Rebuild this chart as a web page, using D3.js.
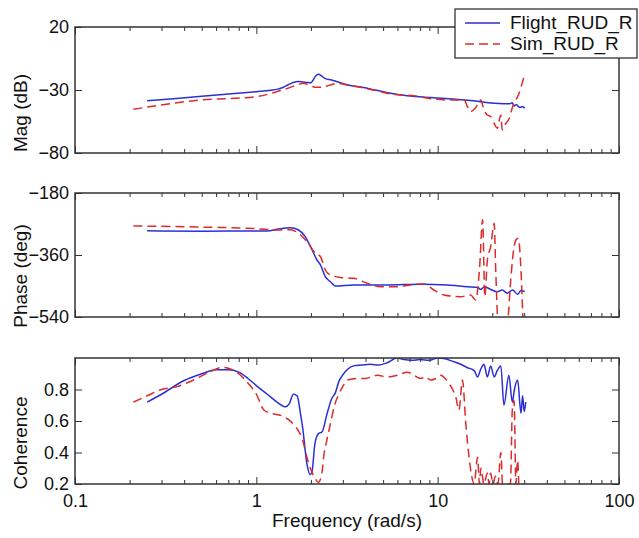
<!DOCTYPE html>
<html>
<head>
<meta charset="utf-8">
<script src="https://cdn.jsdelivr.net/npm/d3@7"></script>
<style>
  body { margin: 0; background: #fff; }
  svg { font-family: "Liberation Sans", Arial, Helvetica, sans-serif; }
</style>
</head>
<body>
<svg></svg>
<script>
const width = 639, height = 538;

// series names
const seriesNames = ['Flight_RUD_R', 'Sim_RUD_R'];

// magnitude (dB)
const magFlightFreq = [0.25, 0.35, 0.5, 0.7, 1.0, 1.2, 1.3, 1.4, 1.5, 1.6, 1.7, 1.8, 1.9, 2.0, 2.07, 2.12, 2.2, 2.3, 2.4, 2.6, 2.8, 3.2, 3.9, 4.5, 5.3, 6.8, 9.1, 11, 14, 17.3, 20.5, 23, 24.8, 25.8, 26.4, 27.2, 28, 28.7, 29.4, 30.2];
const magFlight = [-38.5, -37, -35, -33.2, -31.3, -30.2, -29.5, -28, -25.8, -24, -23.3, -23.6, -24, -24.3, -21.5, -19, -17.5, -19, -21, -22, -23.5, -26, -28, -30, -32.1, -34.5, -36, -36.8, -38, -39.3, -40.6, -41, -41, -40.2, -42.7, -41.5, -43.5, -43.7, -43, -44.5];
const magSimFreq = [0.21, 0.49, 1.0, 1.3, 1.54, 1.68, 1.82, 1.99, 2.16, 2.26, 2.56, 2.79, 3.17, 3.75, 4.44, 5.5, 7.4, 9.1, 12.3, 14, 14.6, 15.2, 16.2, 17.3, 18, 18.8, 19.6, 20.5, 21.3, 22.3, 22.7, 23.8, 24.8, 25.9, 27, 28.1, 29.4, 30];
const magSim = [-45.3, -38, -35.3, -31.3, -27.9, -26, -24.7, -26.8, -27.9, -27.9, -26, -24.7, -26, -27.9, -30, -33.2, -34.6, -36.9, -38, -38, -43.3, -47.2, -44, -38, -45.9, -49.8, -51, -56.4, -60.4, -49.8, -61.7, -56.4, -52.6, -43.3, -38, -32.6, -23.4, -18.9];

// phase (deg)
const phaseFlightFreq = [0.25, 0.5, 1.0, 1.15, 1.3, 1.54, 1.71, 1.86, 2.03, 2.16, 2.26, 2.4, 2.56, 2.73, 3.45, 5.27, 8.05, 11.3, 14.6, 16.6, 17.3, 18.1, 19.6, 21.3, 22.7, 24.2, 25.9, 27.6, 28.8, 30.2];
const phaseFlight = [-289.5, -291, -290, -290, -285.5, -280.7, -287.4, -306.7, -345.5, -374.5, -389, -423, -437.5, -450, -447, -447, -445, -447, -452, -454, -460, -452, -460, -466.5, -461.6, -471, -461.6, -474, -463, -466];
const phaseSimFreq = [0.21, 0.5, 1.0, 1.3, 1.54, 1.71, 1.9, 2.12, 2.26, 2.4, 2.56, 2.91, 3.45, 4.09, 4.84, 5.98, 7.09, 8.4, 9.53, 10.8, 13.4, 15.2, 16.2, 17.0, 17.7, 18.2, 18.8, 19.6, 20.5, 20.9, 21.8, 22.7, 23.8, 25.3, 25.9, 27.0, 27.8, 28.8, 29.4, 29.8];
const phaseSim = [-275.8, -279, -283.6, -287.4, -287, -297, -321, -355, -365, -403.6, -418, -425, -427.8, -442, -452, -452, -447, -444, -461.6, -476, -481, -476, -490.7, -403, -258, -481, -374.5, -336, -268, -403.6, -600, -560, -600, -432, -370, -316.5, -311.6, -403, -520, -600];

// coherence
const cohFlightFreq = [0.25, 0.3, 0.4, 0.5, 0.6, 0.7, 0.8, 0.9, 1.0, 1.15, 1.3, 1.45, 1.52, 1.6, 1.68, 1.75, 1.8, 1.9, 1.98, 2.03, 2.1, 2.2, 2.3, 2.46, 2.6, 2.73, 2.85, 3.03, 3.2, 3.44, 3.8, 4.26, 4.7, 5.27, 5.98, 6.5, 7.2, 8, 9, 10, 11, 12, 13.4, 14.5, 15.9, 16.6, 17.3, 18, 18.8, 19.6, 20.5, 21.3, 22.3, 23.2, 24.7, 25.8, 26.5, 27.6, 28.8, 29.4, 30.0, 30.6];
const cohFlight = [0.72, 0.77, 0.857, 0.9, 0.925, 0.925, 0.91, 0.87, 0.825, 0.77, 0.72, 0.69, 0.71, 0.77, 0.76, 0.65, 0.56, 0.33, 0.26, 0.28, 0.45, 0.52, 0.53, 0.65, 0.74, 0.78, 0.85, 0.9, 0.93, 0.95, 0.955, 0.96, 0.955, 0.97, 1.0, 0.99, 0.985, 0.99, 0.985, 1.0, 0.995, 0.98, 0.96, 0.94, 0.92, 0.88, 0.93, 0.96, 0.88, 0.95, 0.88, 0.92, 0.95, 0.70, 0.89, 0.72, 0.8, 0.86, 0.65, 0.76, 0.66, 0.72];
const cohSimFreq = [0.21, 0.25, 0.3, 0.37, 0.45, 0.55, 0.65, 0.72, 0.8, 0.9, 1.0, 1.1, 1.2, 1.4, 1.5, 1.6, 1.7, 1.8, 1.9, 2.0, 2.1, 2.2, 2.3, 2.35, 2.45, 2.56, 2.7, 2.85, 3.0, 3.17, 3.6, 4.0, 4.64, 5.3, 5.98, 6.8, 7.4, 8.05, 8.6, 9.14, 9.8, 10.4, 11, 11.5, 12.1, 12.6, 13.1, 13.7, 14.3, 14.9, 15.4, 15.9, 16.6, 17.0, 17.3, 18, 18.8, 19.2, 19.6, 20.2, 20.8, 21.5, 22.3, 22.8, 25.2, 25.8, 26.4, 27.0, 27.6, 28.0];
const cohSim = [0.72, 0.76, 0.80, 0.82, 0.86, 0.91, 0.94, 0.93, 0.90, 0.84, 0.77, 0.67, 0.65, 0.63, 0.61, 0.58, 0.54, 0.48, 0.37, 0.29, 0.24, 0.21, 0.27, 0.37, 0.48, 0.58, 0.70, 0.77, 0.82, 0.86, 0.87, 0.87, 0.89, 0.88, 0.89, 0.91, 0.89, 0.87, 0.88, 0.86, 0.87, 0.89, 0.87, 0.84, 0.80, 0.75, 0.67, 0.86, 0.58, 0.37, 0.25, 0.2, 0.37, 0.2, 0.30, 0.2, 0.27, 0.2, 0.27, 0.2, 0.25, 0.2, 0.40, 0.2, 0.2, 0.67, 0.73, 0.2, 0.35, 0.2];

// tick labels
const xTickValues = [0.1, 1, 10, 100];
const xTickLabels = ['0.1', '1', '10', '100'];
const magTicks = [-80, -30, 20];
const phaseTicks = [-540, -360, -180];
const cohTicks = [0.2, 0.4, 0.6, 0.8];

const blue = '#2a2fd6', red = '#db2b2b', axisColor = '#333';

const svg = d3.select('svg').attr('width', width).attr('height', height);

const x = d3.scaleLog().domain([0.1, 100]).range([75, 619]);
const minorTicks = [];
[0.1, 1, 10].forEach(d => { for (let k = 2; k <= 9; k++) minorTicks.push(d * k); });

const minus = d => d3.format('d')(d).replace('-', '\u2212');

const panels = [
  { id: 'mag', top: 27, bottom: 153, domain: [-80, 20], ticks: magTicks, fmt: minus,
    label: 'Mag (dB)', labelY: 113, showX: false,
    series: [[magFlightFreq, magFlight], [magSimFreq, magSim]] },
  { id: 'phase', top: 193, bottom: 317, domain: [-540, -180], ticks: phaseTicks, fmt: minus,
    label: 'Phase (deg)', labelY: 276, showX: false,
    series: [[phaseFlightFreq, phaseFlight], [phaseSimFreq, phaseSim]] },
  { id: 'coh', top: 358, bottom: 484, domain: [0.2, 1.0], ticks: cohTicks, fmt: d3.format('.1f'),
    label: 'Coherence', labelY: 443, showX: true,
    series: [[cohFlightFreq, cohFlight], [cohSimFreq, cohSim]] }
];

panels.forEach(p => {
  const y = d3.scaleLinear().domain(p.domain).range([p.bottom, p.top]);
  const g = svg.append('g');

  g.append('clipPath').attr('id', 'clip-' + p.id)
    .append('rect').attr('x', 75).attr('y', p.top).attr('width', 544).attr('height', p.bottom - p.top);

  const line = d3.line()
    .x(d => x(d[0]))
    .y(d => y(d[1]))
    .curve(d3.curveMonotoneX);

  p.series.forEach((s, i) => {
    const pts = s[0].map((f, j) => [f, s[1][j]]);
    g.append('path')
      .datum(pts)
      .attr('clip-path', `url(#clip-${p.id})`)
      .attr('fill', 'none')
      .attr('stroke', i === 0 ? blue : red)
      .attr('stroke-width', 1.5)
      .attr('stroke-dasharray', i === 0 ? null : '9,5')
      .attr('d', line);
  });

  // axes: ticks inside, on all four sides
  const style = sel => {
    sel.select('.domain').remove();
    sel.selectAll('line').attr('stroke', axisColor);
    sel.selectAll('text').attr('fill', '#111').style('font-size', '18px').attr('font-family', null);
  };

  g.append('g').attr('transform', `translate(0,${p.bottom})`)
    .call(d3.axisBottom(x).tickValues(xTickValues).tickSize(-7).tickPadding(10)
      .tickFormat((d, i) => p.showX ? xTickLabels[i] : ''))
    .call(style);
  g.append('g').attr('transform', `translate(0,${p.bottom})`)
    .call(d3.axisBottom(x).tickValues(minorTicks).tickSize(-4).tickFormat(''))
    .call(style);
  g.append('g').attr('transform', `translate(0,${p.top})`)
    .call(d3.axisTop(x).tickValues(xTickValues).tickSize(-7).tickFormat(''))
    .call(style);
  g.append('g').attr('transform', `translate(0,${p.top})`)
    .call(d3.axisTop(x).tickValues(minorTicks).tickSize(-4).tickFormat(''))
    .call(style);
  g.append('g').attr('transform', 'translate(75,0)')
    .call(d3.axisLeft(y).tickValues(p.ticks).tickSize(-7).tickPadding(6).tickFormat(p.fmt))
    .call(style);
  g.append('g').attr('transform', 'translate(619,0)')
    .call(d3.axisRight(y).tickValues(p.ticks).tickSize(-7).tickFormat(''))
    .call(style);

  g.append('rect')
    .attr('x', 75).attr('y', p.top).attr('width', 544).attr('height', p.bottom - p.top)
    .attr('fill', 'none').attr('stroke', axisColor).attr('stroke-width', 1.5);

  g.append('text')
    .attr('transform', `translate(27,${p.labelY}) rotate(-90)`)
    .attr('text-anchor', 'middle')
    .style('font-size', '19px')
    .attr('fill', '#111')
    .text(p.label);
});

svg.append('text')
  .attr('x', 347).attr('y', 527)
  .attr('text-anchor', 'middle')
  .style('font-size', '19px')
  .attr('fill', '#111')
  .text('Frequency (rad/s)');

// legend
const legend = svg.append('g');
legend.append('rect')
  .attr('x', 455).attr('y', 9).attr('width', 182).attr('height', 49)
  .attr('fill', '#fff').attr('stroke', axisColor).attr('stroke-width', 1.3);
seriesNames.forEach((name, i) => {
  const ly = 23 + i * 21;
  legend.append('line')
    .attr('x1', 465).attr('x2', 500).attr('y1', ly).attr('y2', ly)
    .attr('stroke', i === 0 ? blue : red).attr('stroke-width', 1.5)
    .attr('stroke-dasharray', i === 0 ? null : '9,5');
  legend.append('text')
    .attr('x', 510).attr('y', ly + 6)
    .style('font-size', '19px')
    .attr('fill', '#111')
    .text(name);
});
</script>
</body>
</html>
